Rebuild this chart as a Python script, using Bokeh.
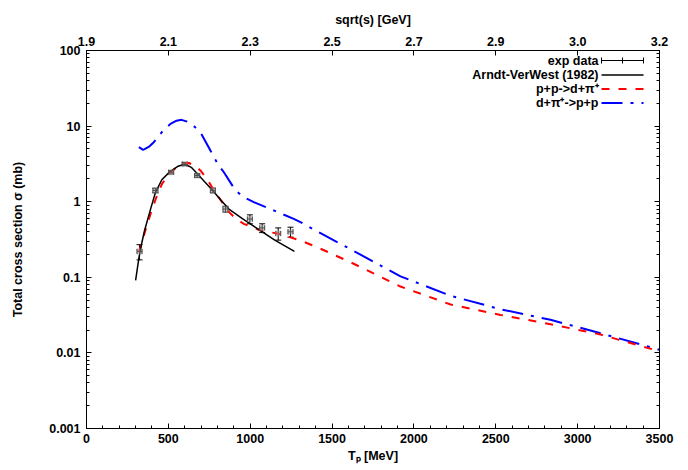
from bokeh.plotting import figure
from bokeh.models import (Range1d, LinearAxis, LogAxis, FixedTicker, CustomJSTickFormatter,
                          ColumnDataSource, Whisker, TeeHead, Label, Arrow)
from bokeh.embed import file_html
from bokeh.resources import INLINE

# ---------------- data ----------------
# experimental points
tp_exp = [324, 421, 517, 600, 676, 772, 849, 998, 1073, 1171, 1246]
sig_exp = [0.22, 1.41, 2.45, 3.15, 2.22, 1.41, 0.80, 0.59, 0.45, 0.38, 0.40]
sig_err = [0.05, 0.10, 0.12, 0.15, 0.12, 0.10, 0.07, 0.08, 0.06, 0.07, 0.06]
tp_err = [15, 15, 15, 15, 15, 15, 15, 15, 15, 15, 15]

# Arndt-VerWest (1982)
tp_av = [300, 320, 340, 355, 390, 421, 460, 510, 560, 600, 640, 680, 720, 770, 820, 870, 950, 1030, 1150, 1270]
sig_av = [0.091, 0.18, 0.30, 0.42, 0.78, 1.32, 1.95, 2.50, 2.95, 3.15, 2.85, 2.30, 1.85, 1.42, 1.05, 0.80, 0.60, 0.46, 0.31, 0.22]

# p+p->d+pi+
tp_pp = [320, 360, 391, 430, 462, 513, 560, 600, 625, 660, 696, 740, 778, 820, 860, 910, 961, 1063, 1175,
         1307, 1409, 1613, 1918, 2224, 2529, 2834, 3140, 3500]
sig_pp = [0.215, 0.42, 0.69, 1.20, 1.73, 2.45, 2.95, 3.20, 3.25, 3.00, 2.59, 1.95, 1.41, 1.05, 0.77, 0.60, 0.51,
          0.416, 0.376, 0.307, 0.25, 0.158, 0.0755, 0.0437, 0.0318, 0.024, 0.0175, 0.0105]

# d+pi+->p+p
tp_dp = [320, 346, 380, 411, 460, 513, 550, 580, 625, 660, 696, 757, 800, 839, 910, 960, 1022, 1144, 1266,
         1307, 1419, 1613, 1918, 2224, 2529, 2834, 3140, 3500]
sig_dp = [5.26, 4.85, 5.30, 6.12, 8.30, 10.7, 11.8, 12.1, 11.3, 9.8, 8.3, 4.75, 3.2, 2.45, 1.41, 1.15, 0.986,
          0.766, 0.593, 0.536, 0.395, 0.235, 0.103, 0.0569, 0.0378, 0.0274, 0.0182, 0.011]

# axes
x_ticks = [0, 500, 1000, 1500, 2000, 2500, 3000, 3500]
x_labels = ["0", "500", "1000", "1500", "2000", "2500", "3000", "3500"]
top_labels = ["1.9", "2.1", "2.3", "2.5", "2.7", "2.9", "3.0", "3.2"]
y_ticks = [0.001, 0.01, 0.1, 1, 10, 100]
y_labels = ["0.001", "0.01", "0.1", "1", "10", "100"]

legend_labels = ["exp data", "Arndt-VerWest (1982)", "p+p->d+\u03c0\u207a", "d+\u03c0\u207a->p+p"]

# ---------------- styles ----------------
FONT = "Liberation Sans"
FS = "12.5px"
RED = "#ff0000"
BLUE = "#0000ff"
RED_DASH = "8 9"
BLUE_DASH = "21 8 3 8"

W, H = 688, 470
MB_L, MB_R, MB_T, MB_B = 86, 29, 50, 42

p = figure(width=W, height=H, x_range=Range1d(0, 3500), y_range=Range1d(0.001, 100),
           y_axis_type="log", output_backend="svg", toolbar_location=None,
           min_border_left=MB_L, min_border_right=MB_R, min_border_top=MB_T, min_border_bottom=MB_B)
p.xgrid.visible = False
p.ygrid.visible = False
p.outline_line_color = "black"
p.outline_line_width = 1
p.background_fill_color = "white"
p.border_fill_color = "white"

JS_LOOKUP = ("const i = tk.findIndex(t => Math.abs(t - tick) <= 1e-9 * Math.max(1, Math.abs(t)));"
             " return i >= 0 ? lb[i] : '';")

x_minor = list(range(0, 3501, 100))
y_minor = [m * 10.0 ** e for e in range(-3, 2) for m in range(2, 10)]


def style_axis(ax):
    ax.axis_line_color = "black"
    ax.axis_line_width = 1
    ax.major_tick_line_color = "black"
    ax.minor_tick_line_color = "black"
    ax.major_tick_in = 5
    ax.major_tick_out = 0
    ax.minor_tick_in = 3
    ax.minor_tick_out = 0
    ax.major_label_text_font = FONT
    ax.major_label_text_font_size = FS
    ax.major_label_text_font_style = "bold"
    ax.major_label_text_color = "black"
    ax.axis_label_text_font = FONT
    ax.axis_label_text_font_size = FS
    ax.axis_label_text_font_style = "bold"
    ax.axis_label_text_color = "black"


# bottom axis
xb = p.xaxis[0]
xb.ticker = FixedTicker(ticks=x_ticks, minor_ticks=x_minor)
xb.formatter = CustomJSTickFormatter(args=dict(tk=x_ticks, lb=x_labels), code=JS_LOOKUP)
xb.axis_label = "T\u209a [MeV]"
style_axis(xb)
xb.major_label_standoff = 5
xb.axis_label_standoff = 3

# left axis
yl = p.yaxis[0]
yl.ticker = FixedTicker(ticks=y_ticks, minor_ticks=y_minor)
yl.formatter = CustomJSTickFormatter(args=dict(tk=y_ticks, lb=y_labels), code=JS_LOOKUP)
yl.axis_label = "Total cross section \u03c3 (mb)"
style_axis(yl)
yl.major_label_standoff = 6
yl.axis_label_standoff = 21

# top axis
xt = LinearAxis(ticker=FixedTicker(ticks=x_ticks, minor_ticks=[]),
                formatter=CustomJSTickFormatter(args=dict(tk=x_ticks, lb=top_labels), code=JS_LOOKUP),
                axis_label="sqrt(s) [GeV]")
style_axis(xt)
xt.minor_tick_in = 0
xt.major_label_standoff = 5
xt.axis_label_standoff = 7
p.add_layout(xt, "above")

# right axis (mirror ticks, no labels)
yr = LogAxis(ticker=FixedTicker(ticks=y_ticks, minor_ticks=y_minor),
             formatter=CustomJSTickFormatter(code="return '';"))
style_axis(yr)
yr.major_label_standoff = 0
p.add_layout(yr, "right")

# ---------------- curves ----------------
p.line(tp_dp, sig_dp, line_color=BLUE, line_width=2, line_dash=BLUE_DASH)
p.line(tp_pp, sig_pp, line_color=RED, line_width=2, line_dash=RED_DASH)
p.line(tp_av, sig_av, line_color="black", line_width=1.5)

# ---------------- exp data ----------------
src = ColumnDataSource(data=dict(
    x=tp_exp, y=sig_exp,
    ylo=[s - e for s, e in zip(sig_exp, sig_err)], yhi=[s + e for s, e in zip(sig_exp, sig_err)],
    xlo=[t - d for t, d in zip(tp_exp, tp_err)], xhi=[t + d for t, d in zip(tp_exp, tp_err)],
))
p.scatter("x", "y", source=src, marker="square", size=6, fill_color="#999999", fill_alpha=0.5,
          line_color=None)
p.add_layout(Whisker(source=src, base="x", lower="ylo", upper="yhi", line_color="black", line_width=1,
                     lower_head=TeeHead(size=6, line_color="black", line_width=1),
                     upper_head=TeeHead(size=6, line_color="black", line_width=1)))
p.add_layout(Whisker(source=src, base="y", lower="xlo", upper="xhi", dimension="width",
                     line_color="black", line_width=1,
                     lower_head=TeeHead(size=5, line_color="black", line_width=1),
                     upper_head=TeeHead(size=5, line_color="black", line_width=1)))

# ---------------- legend (screen units, relative to frame) ----------------
frame_h = H - MB_T - MB_B
text_right = 512
line_x0, line_x1 = 515, 557
row_offsets = [10, 24.5, 38.5, 52.5]
rows = [frame_h - r for r in row_offsets]

for lab, ry in zip(legend_labels, rows):
    p.add_layout(Label(x=text_right, y=ry, x_units="screen", y_units="screen", text=lab,
                       text_align="right", text_baseline="middle", text_font=FONT,
                       text_font_size=FS, text_font_style="bold", text_color="black"))

# exp data sample
p.add_layout(Arrow(x_start=line_x0, y_start=rows[0], x_end=line_x1, y_end=rows[0],
                   start_units="screen", end_units="screen", line_color="black", line_width=1,
                   start=TeeHead(size=6, line_color="black", line_width=1),
                   end=TeeHead(size=6, line_color="black", line_width=1)))
mid = (line_x0 + line_x1) / 2
p.add_layout(Arrow(x_start=mid, y_start=rows[0] - 3, x_end=mid, y_end=rows[0] + 3,
                   start_units="screen", end_units="screen", line_color="black", line_width=1, end=None))
# curves samples
for ry, col, dash, lw in [(rows[1], "black", "solid", 1.5), (rows[2], RED, RED_DASH, 2), (rows[3], BLUE, BLUE_DASH, 2)]:
    p.add_layout(Arrow(x_start=line_x0, y_start=ry, x_end=line_x1, y_end=ry,
                       start_units="screen", end_units="screen", line_color=col, line_width=lw,
                       line_dash=dash, end=None))

open("out.html", "w").write(file_html(p, INLINE))
